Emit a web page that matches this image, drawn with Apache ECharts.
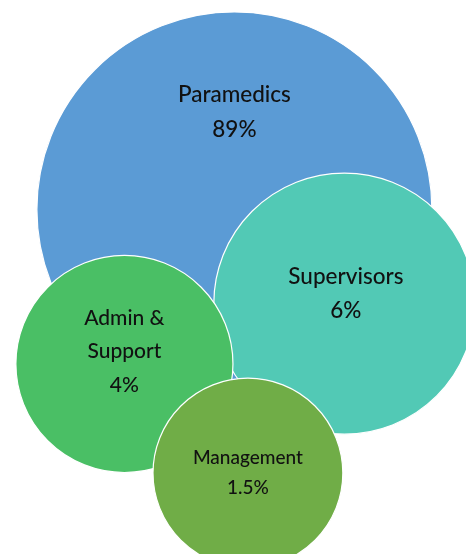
<!DOCTYPE html>
<html>
<head>
<meta charset="utf-8">
<script src="https://cdn.jsdelivr.net/npm/echarts@6/dist/echarts.min.js"></script>
<style>
  html, body { margin: 0; padding: 0; background: #ffffff; }
  #chart { width: 466px; height: 554px; }
</style>
</head>
<body>
<div id="chart"></div>
<script>
// Staff groups and their share of the workforce
const groups = ['Paramedics', 'Supervisors', 'Admin &\nSupport', 'Management'];
const shares = ['89%', '6%', '4%', '1.5%'];

// Bubble placement (chart units, 0-100 on each axis) and bubble weight (area)
const xValues = [50.3, 73.9, 26.7, 53.2];
const yValues = [62.2, 45.2, 34.3, 14.6];
const bubbleWeights = [100, 43.7, 30.2, 23.1];

// Presentation per bubble
const fills = ['#5b9bd5', '#52c9b5', '#4abf65', '#70ad47'];
const labelFonts = [22.5, 22.5, 21, 19];
const labelLines = [35, 34, 33.5, 30];
const labelShift = [[0, -97], [1.5, -9.5], [0, -12.5], [0, 0]];

const maxDiameter = 395;

const chart = echarts.init(document.getElementById('chart'), null, { renderer: 'canvas' });

const data = groups.map((g, i) => ({
  name: g,
  value: [xValues[i], yValues[i], bubbleWeights[i]],
  itemStyle: { color: fills[i] },
  label: {
    offset: labelShift[i],
    fontSize: labelFonts[i],
    lineHeight: labelLines[i]
  }
}));

chart.setOption({
  animation: false,
  grid: { left: 0, right: 0, top: 0, bottom: 0 },
  xAxis: { type: 'value', min: 0, max: 100, show: false },
  yAxis: { type: 'value', min: 0, max: 100, show: false },
  series: [{
    type: 'scatter',
    data: data,
    symbol: 'circle',
    symbolSize: v => maxDiameter * Math.sqrt(v[2] / 100),
    itemStyle: { opacity: 1, borderColor: '#ffffff', borderWidth: 1.2 },
    label: {
      show: true,
      position: 'inside',
      color: '#111111',
      fontFamily: 'Lato',
      fontWeight: 500,
      align: 'center',
      formatter: p => p.name + '\n' + shares[p.dataIndex]
    },
    emphasis: { disabled: true }
  }]
});
</script>
</body>
</html>
